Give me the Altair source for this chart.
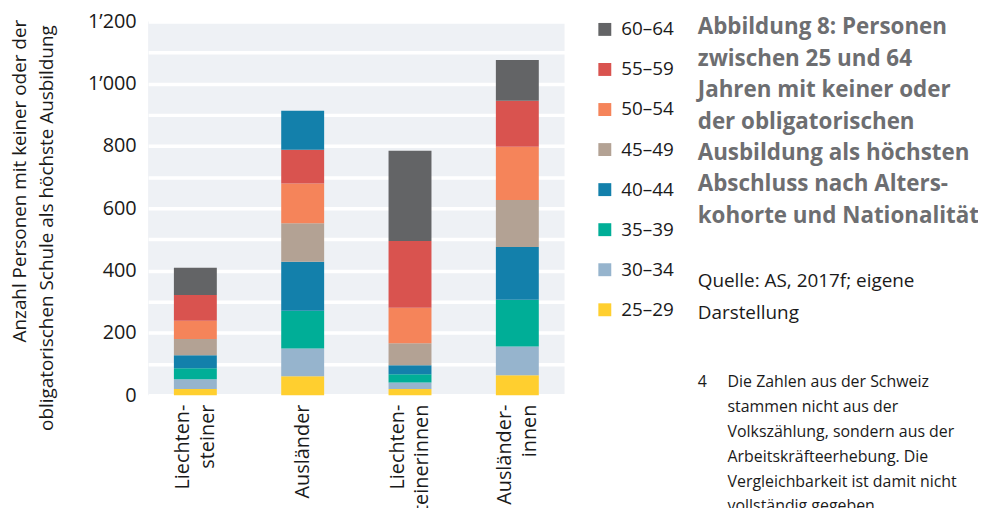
import altair as alt
import pandas as pd

FONT = "Open Sans"

# --- Daten ---------------------------------------------------------------
gruppen = ["Liechten-|steiner", "Ausländer", "Liechten-|steinerinnen", "Ausländer-|innen"]
alter = ["25–29", "30–34", "35–39", "40–44", "45–49", "50–54", "55–59", "60–64"]

liechtensteiner = [20, 31, 35, 42, 52, 59, 83, 87]
auslaender = [61, 89, 121, 157, 124, 128, 108, 125]
liechtensteinerinnen = [20, 21, 26, 29, 71, 114, 214, 290]
auslaenderinnen = [64, 92, 150, 170, 151, 171, 147, 131]

# im Original ist das oberste Segment bei "Ausländer" in der Farbe von 40–44 gezeichnet
farb_abweichung = {("Ausländer", "60–64"): "40–44"}

legende = ["60–64", "55–59", "50–54", "45–49", "40–44", "35–39", "30–34", "25–29"]
farben = ["#636466", "#d9534f", "#f5845a", "#b3a294", "#1380ab", "#00ae97", "#96b4cd", "#ffcf2f"]

y_ticks = list(range(0, 1201, 100))

titel = ["Abbildung 8: Personen", "zwischen 25 und 64", "Jahren mit keiner oder",
         "der obligatorischen", "Ausbildung als höchsten", "Abschluss nach Alters-",
         "kohorte und Nationalität"]
quelle = ["Quelle: AS, 2017f; eigene", "Darstellung"]
fussnote_nr = "4"
fussnote = ["Die Zahlen aus der Schweiz", "stammen nicht aus der",
            "Volkszählung, sondern aus der", "Arbeitskräfteerhebung. Die",
            "Vergleichbarkeit ist damit nicht", "vollständig gegeben."]
y_titel_1 = "Anzahl Personen mit keiner oder der"
y_titel_2 = "obligatorischen Schule als höchste Ausbildung"

# --- Tabelle ---------------------------------------------------------------
serien = [liechtensteiner, auslaender, liechtensteinerinnen, auslaenderinnen]
rows = []
for g, werte in zip(gruppen, serien):
    for i, (a, v) in enumerate(zip(alter, werte)):
        rows.append({
            "gruppe": g,
            "alter": a,
            "idx": i,
            "wert": v,
            "farbe": farb_abweichung.get((g, a), a),
        })
df = pd.DataFrame(rows)

DARK = "#1a1a1a"

bars = alt.Chart(df).mark_bar().encode(
    x=alt.X(
        "gruppe:N", sort=gruppen,
        scale=alt.Scale(paddingInner=0.6, paddingOuter=0.24),
        axis=alt.Axis(
            title=None, labelAngle=270, labelAlign="right", labelBaseline="middle",
            labelExpr="split(datum.label, '|')", labelFontSize=20, labelLineHeight=25,
            labelOffset={"condition": {"test": "indexof(datum.label, '|') >= 0", "value": -12.5},
                         "value": 0},
            labelPadding=9, domain=False, ticks=False, labelColor=DARK, labelFont=FONT,
        ),
    ),
    y=alt.Y(
        "wert:Q", stack="zero",
        scale=alt.Scale(domain=[0, 1200], nice=False),
        axis=alt.Axis(
            title=None, values=y_ticks,
            labelExpr="datum.value % 200 == 0 ? replace(format(datum.value, ','), ',', '’') : ''",
            grid=True, gridColor="white", gridWidth=3.5, domain=False, ticks=False,
            labelPadding=12, labelFontSize=20, labelColor=DARK, labelFont=FONT,
            labelOverlap=False,
        ),
    ),
    color=alt.Color(
        "farbe:N",
        scale=alt.Scale(domain=legende, range=farben),
        legend=alt.Legend(
            title=None, orient="none", legendX=450, legendY=-1.5, symbolType="square",
            symbolSize=169, symbolStrokeWidth=0, labelFontSize=19, labelFont=FONT,
            labelColor=DARK, rowPadding=20.3, labelOffset=7, padding=0,
        ),
    ),
    order=alt.Order("idx:Q", sort="ascending"),
)

one = pd.DataFrame({"k": [0]})


def text_layer(lines, x, y, size, color, weight="normal", lh=None, angle=0, baseline="alphabetic"):
    kw = dict(text=lines, align="left", baseline=baseline, font=FONT, fontSize=size,
              fontWeight=weight, color=color)
    if lh is not None:
        kw["lineHeight"] = lh
    if angle:
        kw["angle"] = angle
    return alt.Chart(one).mark_text(**kw).encode(x=alt.value(x), y=alt.value(y))


layers = [
    bars,
    text_layer(titel, 553, 13, 22.5, "#6d6e71", weight="bold", lh=31.6),
    text_layer(quelle, 553, 267, 19, DARK, lh=32),
    text_layer(fussnote_nr, 553, 368, 16, DARK),
    text_layer(fussnote, 583, 368, 16, DARK, lh=25),
    text_layer(y_titel_1, -129, 323, 19, DARK, angle=270, baseline="middle"),
    text_layer(y_titel_2, -102, 412, 19, DARK, angle=270, baseline="middle"),
]

chart = alt.layer(*layers).properties(
    width=419, height=376,
    autosize=alt.AutoSizeParams(type="none"),
    padding={"left": 141, "top": 12, "right": 416, "bottom": 112},
).configure_view(fill="#eef1f5", stroke=None)

chart.save("out.html", embed_options={"renderer": "svg", "actions": False})
